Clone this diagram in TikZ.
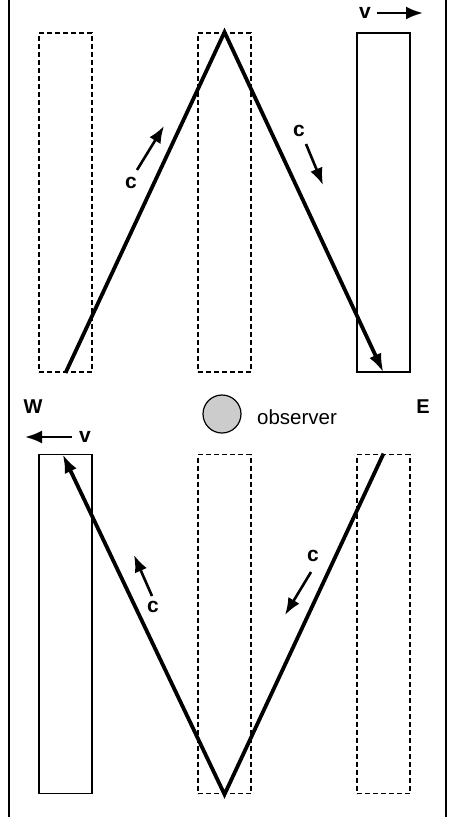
\documentclass[tikz,border=0pt]{standalone}
\usepackage{fontspec}
\setmainfont{Liberation Sans}
\usetikzlibrary{arrows.meta}
\tikzset{
  ruler/.style={line width=1.3pt},
  wall/.style={draw, line width=1.2pt, minimum width=53pt, minimum height=339pt, inner sep=0pt},
  ghost/.style={wall, dashed, dash pattern=on 5pt off 3pt, line width=1.8pt},
  ray/.style={line width=3.8pt, -{Latex[length=19pt, width=13pt]}},
  flow/.style={line width=2.6pt, -{Latex[length=17pt, width=13pt]}},
  tag/.style={font=\fontsize{21}{21}\selectfont\bfseries, inner sep=0pt},
}

\begin{document}
\begin{tikzpicture}[x=1pt, y=-1pt]
  \useasboundingbox (0,0) rectangle (453,817);

  % Frame
  \draw[ruler] (9,0) -- (9,817);
  \draw[ruler] (446,0) -- (446,817);

  % Upper row
  \node[ghost] (tl) at (65.5,202.5) {};
  \node[ghost] (tm) at (224.5,202.5) {};
  \node[wall] (tr) at (383.5,202.5) {};

  % Lower row
  \node[wall] (bl) at (65.5,624) {};
  \node[ghost] (bm) at (224.5,624) {};
  \node[ghost] (br) at (383.5,624) {};

  % Light paths
  \draw[ray, line join=miter] (tl.south) -- (tm.north) -- (tr.south);
  \draw[ray, line join=miter] (br.north) -- (bm.south) -- ([xshift=-3pt]bl.north);

  % Observer
  \node[circle, draw, line width=1.2pt, fill=black!20, minimum size=38pt, inner sep=0pt] (obs) at (222,414) {};
  \node[anchor=west, font=\fontsize{20.5}{21}\selectfont, inner sep=0pt] (obslbl) at (257,417) {observer};
  \node[tag, font=\fontsize{20}{20}\selectfont\bfseries] (west) at (33,407) {W};
  \node[tag, font=\fontsize{20}{20}\selectfont\bfseries] (east) at (423,407) {E};

  % Speeds
  \node[tag] (v1) at (365,13) {v};
  \coordinate (v1b) at (423,13);
  \draw[flow] (v1.east) ++(6pt,0) coordinate (v1a) -- (v1b);
  \node[tag] (v2) at (85,437) {v};
  \coordinate (v2b) at (25,437);
  \draw[flow] (v2.west) ++(-7pt,0) coordinate (v2a) -- (v2b);

  % Light speed marks
  \node[tag] (c1) at (131,183) {c};
  \coordinate (c1a) at (137,170);
  \coordinate (c1b) at (164,126);
  \draw[flow] (c1a) -- (c1b);

  \node[tag] (c2) at (299,131) {c};
  \coordinate (c2a) at (306,144);
  \coordinate (c2b) at (323,185);
  \draw[flow] (c2a) -- (c2b);

  \node[tag] (c3) at (153,607) {c};
  \coordinate (c3a) at (152,596);
  \coordinate (c3b) at (134,555);
  \draw[flow] (c3a) -- (c3b);

  \node[tag] (c4) at (313,556) {c};
  \coordinate (c4a) at (311,572);
  \coordinate (c4b) at (285,615);
  \draw[flow] (c4a) -- (c4b);
\end{tikzpicture}
\end{document}
